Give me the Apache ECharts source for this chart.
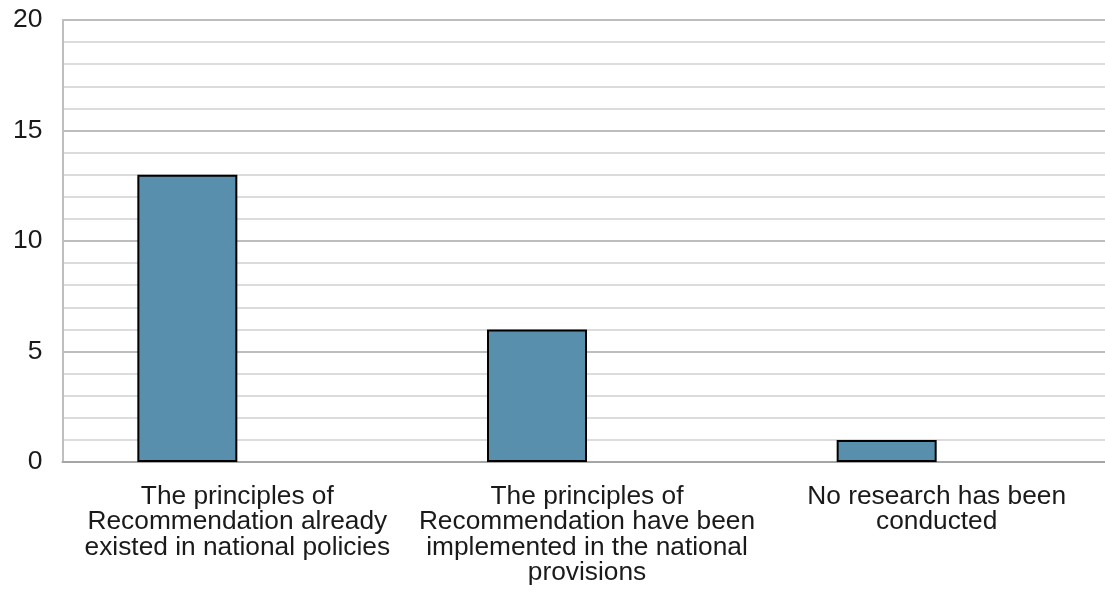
<!DOCTYPE html>
<html>
<head>
<meta charset="utf-8">
<script src="https://cdn.jsdelivr.net/npm/echarts@6/dist/echarts.min.js"></script>
<style>
  html, body { margin: 0; padding: 0; background: #fff; overflow: hidden; }
  /* the plot runs slightly past the right edge of the window */
  #chart { width: 1112px; height: 600px; }
</style>
</head>
<body>
<div id="chart"></div>
<script>
// Category labels (line breaks as set in the axis)
const categories = [
  'The principles of\nRecommendation already\nexisted in national policies',
  'The principles of\nRecommendation have been\nimplemented in the national\nprovisions',
  'No research has been\nconducted'
];
// Number of responses per category
const responses = [13, 6, 1];
// Empty companion series that reserves the second slot in each category
const reserved = ['-', '-', '-'];
// Value axis range
const yMin = 0;
const yMax = 20;
const yStep = 5;

const chart = echarts.init(document.getElementById('chart'), null, { renderer: 'canvas' });

const font = '"Liberation Sans", Arial, sans-serif';

chart.setOption({
  animation: false,
  backgroundColor: '#ffffff',
  grid: { left: 62.5, top: 20, bottom: 138, right: 0.5, containLabel: false },
  xAxis: {
    type: 'category',
    data: categories,
    axisLine: { show: true, lineStyle: { color: '#a6a6a6', width: 2 } },
    axisTick: { show: false },
    axisLabel: {
      interval: 0,
      margin: 22,
      color: '#1a1a1a',
      fontFamily: font,
      fontSize: 26.3,
      lineHeight: 25.3
    },
    splitLine: { show: false }
  },
  yAxis: {
    type: 'value',
    min: yMin,
    max: yMax,
    interval: yStep,
    axisLine: { show: true, lineStyle: { color: '#bfbfbf', width: 2 } },
    axisTick: { show: false },
    axisLabel: {
      margin: 20,
      color: '#1a1a1a',
      fontFamily: font,
      fontSize: 26.5
    },
    splitLine: { show: true, lineStyle: { color: '#bdbdbd', width: 2 } },
    minorTick: { show: false, splitNumber: 5 },
    minorSplitLine: { show: true, lineStyle: { color: '#dcdcdc', width: 2 } }
  },
  series: [
    {
      type: 'bar',
      data: responses,
      barWidth: 100,
      barGap: '0%',
      itemStyle: { color: '#588fad', borderColor: '#000000', borderWidth: 2 }
    },
    {
      type: 'bar',
      data: reserved,
      barWidth: 100,
      itemStyle: { color: 'transparent' }
    }
  ]
});
</script>
</body>
</html>
